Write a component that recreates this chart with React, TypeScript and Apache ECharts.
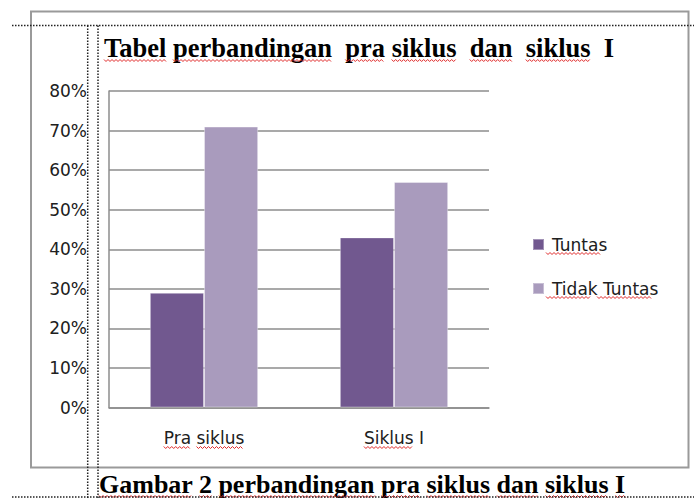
import React, { useEffect, useRef } from "react";
import * as echarts from "echarts";

const categories = ["Pra siklus", "Siklus I"];
const tuntas = [29, 43];
const tidakTuntas = [71, 57];
const seriesNames = ["Tuntas", "Tidak Tuntas"];
const titleText = "Tabel perbandingan  pra siklus  dan  siklus  I";
const captionText = "Gambar 2 perbandingan pra siklus dan siklus I";

const SANS = "DejaVu Sans";
const SERIF = "Liberation Serif";

function measure(font: string, s: string): number {
  const c = document.createElement("canvas").getContext("2d");
  if (!c) return s.length * 8;
  c.font = font;
  return c.measureText(s).width;
}

// spell-check style wavy red underline under words of a string
function squiggles(text: string, font: string, x0: number, y: number, skip: string[] = []) {
  const out: any[] = [];
  const re = /\S+/g;
  let m: RegExpExecArray | null;
  while ((m = re.exec(text))) {
    if (skip.includes(m[0])) continue;
    const a = x0 + measure(font, text.slice(0, m.index));
    const b = x0 + measure(font, text.slice(0, m.index + m[0].length));
    const pts: number[][] = [];
    let up = true;
    for (let x = a; x <= b; x += 2) {
      pts.push([x, y + (up ? -1 : 1)]);
      up = !up;
    }
    out.push({ type: "polyline", z: 50, shape: { points: pts }, style: { stroke: "#e02828", lineWidth: 1, fill: "none" } });
  }
  return out;
}

export default function App() {
  const ref = useRef<HTMLDivElement>(null);
  useEffect(() => {
    if (!ref.current) return;
    const chart = echarts.init(ref.current, null, { renderer: "svg" });
    const gray = "#8c8c8c";
    const txt = "#202020";
    const dot = { stroke: "#222", lineWidth: 1.5, lineDash: [1.5, 1.5] };
    const titleFont = `bold 26.5px "${SERIF}"`;
    const capFont = `bold 26px "${SERIF}"`;
    const labFont = `17px "${SANS}"`;
    const gridLeft = 109;
    const gridW = 380;
    const catW = gridW / categories.length;
    const deco: any[] = [];
    deco.push(...squiggles(titleText, titleFont, 104, 60.5, ["I"]));
    deco.push(...squiggles(captionText, capFont, 99, 496.5));
    categories.forEach((c, i) => {
      const w = measure(labFont, c);
      const cx = gridLeft + catW * (i + 0.5);
      deco.push(...squiggles(c, labFont, cx - w / 2, 447.5, ["I"]));
    });
    seriesNames.forEach((n, i) => {
      deco.push(...squiggles(n, labFont, 546, 253.5 + i * 44));
    });
    chart.setOption({
      animation: false,
      backgroundColor: "#fff",
      grid: { left: gridLeft, top: 91, width: gridW, height: 316.5, containLabel: false },
      xAxis: {
        type: "category",
        data: categories,
        axisLine: { lineStyle: { color: gray, width: 1.5 } },
        axisTick: { show: false },
        axisLabel: { margin: 22, fontFamily: SANS, fontSize: 17, color: txt },
      },
      yAxis: {
        type: "value",
        min: 0,
        max: 80,
        interval: 10,
        axisLine: { show: true, lineStyle: { color: gray, width: 1.5 } },
        axisTick: { show: false },
        splitLine: { lineStyle: { color: gray, width: 1.5 } },
        axisLabel: { margin: 22, formatter: "{value}%", fontFamily: SANS, fontSize: 17, color: txt },
      },
      legend: {
        orient: "vertical",
        left: 527,
        top: 231,
        itemWidth: 11,
        itemHeight: 11,
        itemGap: 27,
        icon: "rect",
        data: seriesNames,
        textStyle: { fontFamily: SANS, fontSize: 17, color: txt, padding: [0, 0, 0, 3] },
      },
      series: [
        {
          name: seriesNames[0],
          type: "bar",
          data: tuntas,
          barGap: "0%",
          barCategoryGap: "43%",
          itemStyle: { color: "#71588F", borderColor: "rgba(255,255,255,0.35)", borderWidth: 1 },
        },
        {
          name: seriesNames[1],
          type: "bar",
          data: tidakTuntas,
          itemStyle: { color: "#A99BBD", borderColor: "rgba(255,255,255,0.35)", borderWidth: 1 },
        },
      ],
      graphic: [
        { type: "rect", z: 0, shape: { x: 31, y: 11.5, width: 657.5, height: 456 }, style: { fill: "none", stroke: "#9a9a9a", lineWidth: 2 } },
        { type: "text", x: 104, y: 48, style: { text: titleText, font: titleFont, fill: "#000", verticalAlign: "middle" } },
        { type: "text", x: 99, y: 484.5, style: { text: captionText, font: capFont, fill: "#000", verticalAlign: "middle" } },
        ...deco,
        { type: "line", z: 100, shape: { x1: 12, y1: 25.5, x2: 694, y2: 25.5 }, style: dot },
        { type: "line", z: 100, shape: { x1: 87.7, y1: 25.5, x2: 87.7, y2: 498 }, style: dot },
        { type: "line", z: 100, shape: { x1: 98, y1: 25.5, x2: 98, y2: 498 }, style: dot },
        { type: "line", z: 100, shape: { x1: 12, y1: 497, x2: 694, y2: 497 }, style: dot },
      ],
    });
    return () => chart.dispose();
  }, []);
  return (
    <div
      ref={ref}
      style={{ position: "fixed", left: 0, top: 0, width: 694, height: 498, background: "#fff" }}
    />
  );
}
